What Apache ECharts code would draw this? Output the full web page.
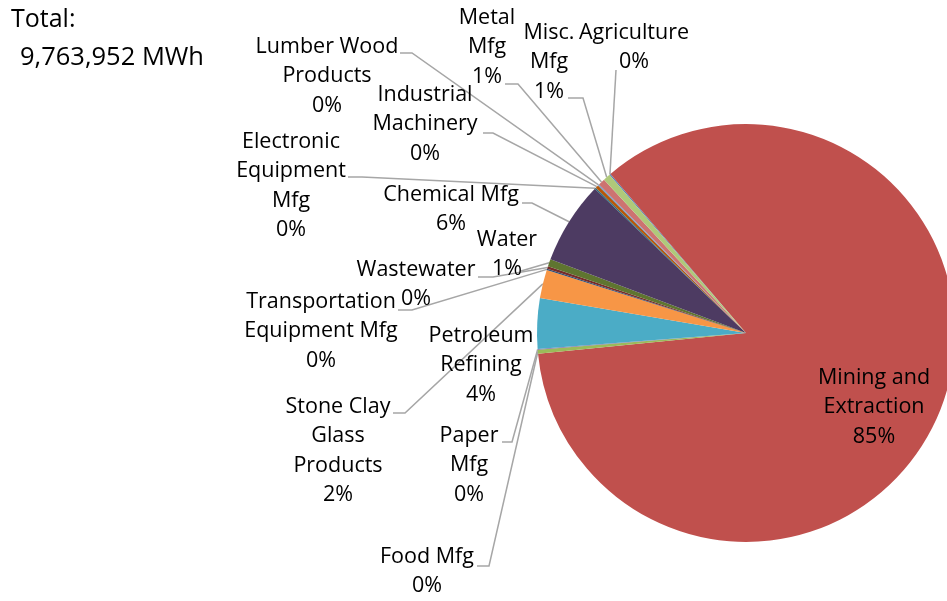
<!DOCTYPE html>
<html>
<head>
<meta charset="utf-8">
<script src="https://cdn.jsdelivr.net/npm/echarts@6/dist/echarts.min.js"></script>
<style>
  html, body { margin: 0; padding: 0; background: #ffffff; }
  #chart { width: 947px; height: 601px; }
</style>
</head>
<body>
<div id="chart"></div>
<script>
// ---- data ----
const categories = [
  'Agriculture',
  'Mining and\nExtraction',
  'Food Mfg',
  'Paper\nMfg',
  'Petroleum\nRefining',
  'Stone Clay\nGlass\nProducts',
  'Transportation\nEquipment Mfg',
  'Wastewater',
  'Water',
  'Chemical Mfg',
  'Electronic\nEquipment\nMfg',
  'Industrial\nMachinery',
  'Lumber Wood\nProducts',
  'Metal\nMfg',
  'Misc.\nMfg'
];
// electricity use, MWh
const valuesMWh = [
  10000, 8270000, 29000, 5000, 381000, 215000, 10000, 20000,
  54000, 625000, 10000, 24000, 10000, 52000, 54000
];
const totalMWh = 9763952;

// ---- styles / layout ----
const palette = [
  '#4F81BD', '#C0504D', '#9BBB59', '#8064A2', '#4BACC6', '#F79646',
  '#2C4D75', '#772C2A', '#5F7530', '#4D3B62', '#276A7C', '#B65708',
  '#729ACA', '#CD7371', '#AFC97A'
];
// label block: centre x, top y; leader: elbow + attach points (null = no leader)
const labelLayoutCfg = [
  { x: 634, y: 18,  attach: [616, 70],  elbow: null },
  { x: 874, y: 363, attach: null,       elbow: null },
  { x: 427, y: 542, attach: [477, 566], elbow: [489, 566] },
  { x: 469, y: 421, attach: [502, 442], elbow: [512, 442] },
  { x: 481, y: 321, attach: null,       elbow: null },
  { x: 338, y: 392, attach: [393, 413], elbow: [405, 413] },
  { x: 321, y: 287, attach: [398, 310], elbow: [412, 310] },
  { x: 416, y: 255, attach: [478, 277], elbow: [493, 277] },
  { x: 507, y: 225, attach: [521, 271], elbow: null },
  { x: 451, y: 180, attach: [522, 203], elbow: [532, 203] },
  { x: 291, y: 127, attach: [348, 177], elbow: [362, 177] },
  { x: 425, y: 80,  attach: [483, 133], elbow: [493, 133] },
  { x: 327, y: 32,  attach: [400, 53],  elbow: [412, 53] },
  { x: 487, y: 3,   attach: [505, 84],  elbow: [518, 84] },
  { x: 549, y: 18,  attach: [568, 98],  elbow: [583, 98] }
];
const FONT = '"Open Sans", "Liberation Sans", sans-serif';
const sum = valuesMWh.reduce((a, b) => a + b, 0);

const chart = echarts.init(document.getElementById('chart'), null, { renderer: 'canvas' });

const data = categories.map((name, i) => ({
  name: name,
  value: valuesMWh[i],
  itemStyle: { color: palette[i] },
  labelLine: { show: !!labelLayoutCfg[i].attach }
}));

chart.setOption({
  backgroundColor: '#ffffff',
  animation: false,
  graphic: [
    { type: 'text', left: 11, top: 7,
      style: { text: 'Total:', font: '25px ' + FONT, fill: '#000' } },
    { type: 'text', left: 20, top: 45,
      style: { text: totalMWh.toLocaleString('en-US') + ' MWh', font: '25.5px ' + FONT, fill: '#000' } }
  ],
  series: [{
    type: 'pie',
    center: [746, 333],
    radius: 209,
    startAngle: 130.8,
    clockwise: true,
    avoidLabelOverlap: false,
    minShowLabelAngle: 0,
    data: data,
    itemStyle: { borderWidth: 0 },
    label: {
      show: true,
      position: 'outside',
      fontFamily: FONT,
      fontSize: 21.5,
      lineHeight: 29.5,
      color: '#000',
      align: 'center',
      formatter: p => p.name + '\n' + Math.round(p.value / sum * 100) + '%'
    },
    labelLine: {
      show: true,
      length: 10,
      length2: 10,
      smooth: false,
      lineStyle: { color: '#A6A6A6', width: 1.5 }
    },
    labelLayout: function (params) {
      const cfg = labelLayoutCfg[params.dataIndex];
      const out = { x: cfg.x, y: cfg.y, align: 'center', verticalAlign: 'top' };
      if (cfg.attach && params.labelLinePoints && params.labelLinePoints.length) {
        const p0 = params.labelLinePoints[0];
        out.labelLinePoints = cfg.elbow
          ? [p0, cfg.elbow, cfg.attach]
          : [p0, cfg.attach, cfg.attach];
      }
      return out;
    },
    emphasis: { disabled: true }
  }]
});
</script>
</body>
</html>
